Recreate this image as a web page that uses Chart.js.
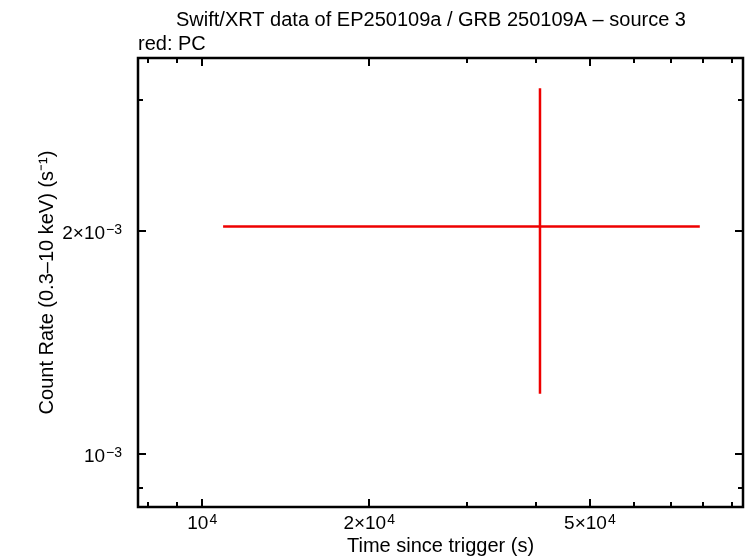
<!DOCTYPE html>
<html>
<head>
<meta charset="utf-8">
<script src="https://cdn.jsdelivr.net/npm/chart.js@4"></script>
<style>
  html, body { margin: 0; padding: 0; background: #fff; }
  #wrap { position: relative; width: 746px; height: 558px; }
</style>
</head>
<body>
<div id="wrap"><canvas id="lc"></canvas></div>
<script>
// PC mode light curve bins (count rate vs time since trigger)
const times = [40640];
const timeLo = [10906];
const timeHi = [78900];
const rates = [2.025e-3];
const rateLo = [1.205e-3];
const rateHi = [3.11e-3];

// labelled ticks: value, mantissa text, exponent text
const xTicks = [1e4, 2e4, 5e4];
const xTickMant = ['10', '2×10', '5×10'];
const xTickExp = ['4', '4', '4'];
const yTicks = [1e-3, 2e-3];
const yTickMant = ['10', '2×10'];
const yTickExp = ['−3', '−3'];

const xRange = [7660, 94400];
const yRange = [8.48e-4, 3.416e-3];

const RED = 'rgb(238,0,0)';
const FONT = 'Liberation Sans, Arial, Helvetica, sans-serif';

// each bin -> one horizontal and one vertical error segment
const datasets = [];
times.forEach((t, i) => {
  datasets.push({
    data: [{ x: timeLo[i], y: rates[i] }, { x: timeHi[i], y: rates[i] }],
    borderColor: RED, borderWidth: 2.5, pointRadius: 0, showLine: true,
  });
  datasets.push({
    data: [{ x: t, y: rateLo[i] }, { x: t, y: rateHi[i] }],
    borderColor: RED, borderWidth: 2.5, pointRadius: 0, showLine: true,
  });
});

// log minor tick values inside [lo, hi]
function logTicks(lo, hi) {
  const out = [];
  for (let e = Math.floor(Math.log10(lo)); e <= Math.ceil(Math.log10(hi)); e++) {
    for (let m = 1; m <= 9; m++) {
      const v = m * Math.pow(10, e);
      if (v >= lo && v <= hi) out.push(v);
    }
  }
  return out;
}

const isMajor = (list, v) => list.some(t => Math.abs(t - v) / t < 1e-9);

// draw "mant^exp"; align 'center' or 'right' about x
function sciLabel(ctx, mant, exp, x, base, align) {
  ctx.font = '19px ' + FONT;
  const wm = ctx.measureText(mant).width;
  ctx.font = '14px ' + FONT;
  const we = ctx.measureText(exp).width;
  const w = wm + we + 1;
  const x0 = align === 'center' ? x - w / 2 : x - w;
  ctx.textAlign = 'left';
  ctx.font = '19px ' + FONT;
  ctx.fillText(mant, x0, base);
  ctx.font = '14px ' + FONT;
  ctx.fillText(exp, x0 + wm + 1, base - 5);
}

const framePlugin = {
  id: 'frame',
  afterDraw(chart) {
    const { ctx, chartArea: a, scales } = chart;
    ctx.save();
    ctx.strokeStyle = '#000';
    ctx.lineWidth = 2;
    // inward ticks on all four sides
    logTicks(xRange[0], xRange[1]).forEach(v => {
      const px = Math.round(scales.x.getPixelForValue(v));
      const len = isMajor(xTicks, v) ? 8 : 5;
      ctx.beginPath();
      ctx.moveTo(px, a.bottom); ctx.lineTo(px, a.bottom - len);
      ctx.moveTo(px, a.top); ctx.lineTo(px, a.top + len);
      ctx.stroke();
    });
    logTicks(yRange[0], yRange[1]).forEach(v => {
      const py = Math.round(scales.y.getPixelForValue(v));
      const len = isMajor(yTicks, v) ? 8 : 5;
      ctx.beginPath();
      ctx.moveTo(a.left, py); ctx.lineTo(a.left + len, py);
      ctx.moveTo(a.right, py); ctx.lineTo(a.right - len, py);
      ctx.stroke();
    });
    ctx.lineWidth = 2.5;
    ctx.strokeRect(a.left, a.top, a.right - a.left, a.bottom - a.top);

    // tick labels
    ctx.fillStyle = '#000';
    ctx.textBaseline = 'alphabetic';
    xTicks.forEach((v, i) => {
      sciLabel(ctx, xTickMant[i], xTickExp[i], scales.x.getPixelForValue(v), a.bottom + 22, 'center');
    });
    yTicks.forEach((v, i) => {
      sciLabel(ctx, yTickMant[i], yTickExp[i], a.left - 16, scales.y.getPixelForValue(v) + 8, 'right');
    });

    // titles
    ctx.font = '20px ' + FONT;
    ctx.textAlign = 'center';
    ctx.fillText('Swift/XRT data of EP250109a / GRB 250109A – source 3', 431, 26);
    ctx.textAlign = 'left';
    ctx.fillText('red: PC', 138, 50);
    ctx.restore();
  }
};

new Chart(document.getElementById('lc'), {
  type: 'scatter',
  data: { datasets },
  options: {
    responsive: true,
    maintainAspectRatio: false,
    animation: false,
    layout: { padding: { top: 58, right: 3, left: 0, bottom: 0 } },
    plugins: { legend: { display: false }, tooltip: { enabled: false } },
    scales: {
      x: {
        type: 'logarithmic',
        min: xRange[0], max: xRange[1],
        grid: { display: false },
        border: { display: false },
        ticks: { display: false },
        afterFit: s => { s.height = 51; },
        title: {
          display: true, text: 'Time since trigger (s)', color: '#000',
          font: { family: FONT, size: 20 }, padding: { top: 0, bottom: 0 },
        },
      },
      y: {
        type: 'logarithmic',
        min: yRange[0], max: yRange[1],
        grid: { display: false },
        border: { display: false },
        ticks: { display: false },
        afterFit: s => { s.width = 138; },
        title: {
          display: true, text: 'Count Rate (0.3–10 keV) (s⁻¹)', color: '#000',
          font: { family: FONT, size: 20 }, padding: { top: 35, bottom: 0 },
        },
      },
    },
  },
  plugins: [framePlugin],
});
</script>
</body>
</html>
